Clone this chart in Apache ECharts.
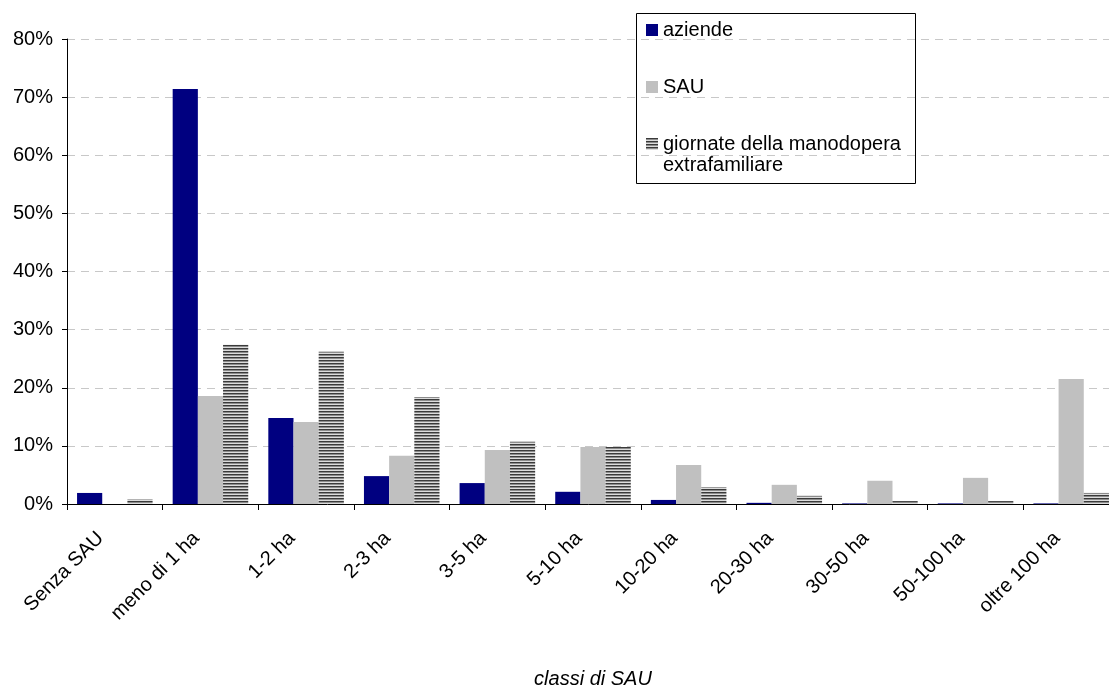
<!DOCTYPE html>
<html><head><meta charset="utf-8">
<script src="https://cdn.jsdelivr.net/npm/echarts@6/dist/echarts.min.js"></script>
<style>html,body{margin:0;padding:0;background:#fff}#c{width:1109px;height:686px}</style>
</head><body><div id="c"></div>
<script>
var categories = ['Senza SAU','meno di 1 ha','1-2 ha','2-3 ha','3-5 ha','5-10 ha','10-20 ha','20-30 ha','30-50 ha','50-100 ha','oltre 100 ha'];
var aziende = [1.9, 71.4, 14.8, 4.8, 3.6, 2.1, 0.7, 0.2, 0.1, 0.1, 0.1];
var sau = [0, 18.6, 14.1, 8.3, 9.3, 9.8, 6.7, 3.3, 4.0, 4.5, 21.5];
var giornate = [0.8, 27.4, 26.2, 18.4, 10.7, 9.8, 2.9, 1.4, 0.5, 0.5, 1.9];
var yTicks = [0, 10, 20, 30, 40, 50, 60, 70, 80];

var pc = document.createElement('canvas');
pc.width = 4; pc.height = 3;
var ctx = pc.getContext('2d');
var rows = ['#3a3a3a', '#8c8c8c', '#dcdcdc'];
for (var i = 0; i < 3; i++) { ctx.fillStyle = rows[i]; ctx.fillRect(0, i, 4, 1); }

var FONT = 'Liberation Sans, Arial, sans-serif';
var FS = 20;
var chart = echarts.init(document.getElementById('c'));
chart.setOption({
  animation: false,
  backgroundColor: '#fff',
  grid: { left: 67, top: 39, bottom: 182, width: 1052, containLabel: false, outerBoundsMode: 'none' },
  legend: {
    orient: 'vertical', left: 636, top: 13,
    padding: [7, 10, 8, 10], itemGap: 37, itemWidth: 12, itemHeight: 12,
    textStyle: { fontFamily: FONT, fontSize: FS, color: '#000' },
    formatter: function (n) { return n === 'giornate della manodopera extrafamiliare' ? 'giornate della manodopera' : n; },
    data: [
      { name: 'aziende', icon: 'rect' },
      { name: 'SAU', icon: 'rect' },
      { name: 'giornate della manodopera extrafamiliare', icon: 'rect' }
    ]
  },
  graphic: [
    { type: 'rect', shape: { x: 636.5, y: 13.5, width: 279, height: 170 }, style: { fill: 'none', stroke: '#000', lineWidth: 1 }, z: 100 },
    { type: 'text', x: 663, y: 155, style: { text: 'extrafamiliare', font: FS + 'px ' + FONT, fill: '#000' } }
  ],
  xAxis: {
    type: 'category', data: categories,
    name: 'classi di SAU', nameLocation: 'middle', nameGap: 165,
    nameTextStyle: { fontFamily: FONT, fontSize: FS, fontStyle: 'italic', color: '#000' },
    axisLine: { lineStyle: { color: '#000' } },
    axisTick: { show: true, length: 6, lineStyle: { color: '#000' } },
    axisLabel: { rotate: 45, fontFamily: FONT, fontSize: FS, color: '#000', margin: 17, padding: [0, 20, 0, 0], interval: 0 }
  },
  yAxis: {
    type: 'value', min: 0, max: 80, interval: 10,
    axisLine: { show: true, lineStyle: { color: '#000' } },
    axisTick: { show: true, length: 5, lineStyle: { color: '#000' } },
    axisLabel: { fontFamily: FONT, fontSize: FS, color: '#000', margin: 14, formatter: '{value}%' },
    splitLine: { lineStyle: { color: '#c8c8c8', type: [8, 6] } }
  },
  series: [
    { name: 'aziende', type: 'bar', data: aziende, barGap: '0%', barCategoryGap: '21%', itemStyle: { color: '#000080' } },
    { name: 'SAU', type: 'bar', data: sau, itemStyle: { color: '#c0c0c0' } },
    { name: 'giornate della manodopera extrafamiliare', type: 'bar', data: giornate, itemStyle: { color: { image: pc, repeat: 'repeat' } } }
  ]
});
</script></body></html>
